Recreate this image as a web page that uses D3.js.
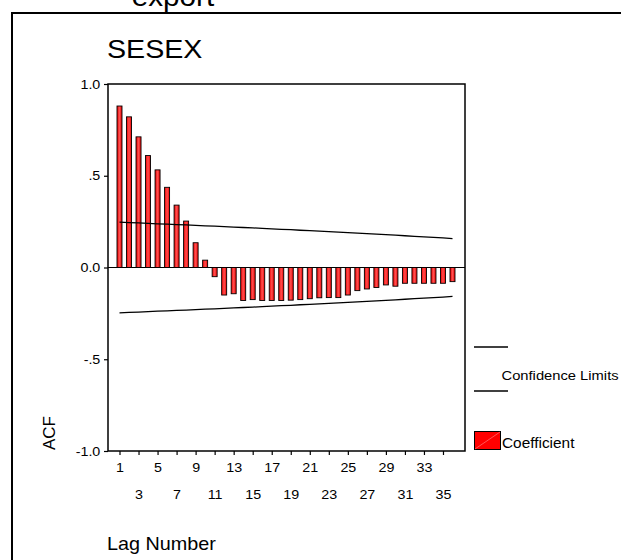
<!DOCTYPE html>
<html>
<head>
<meta charset="utf-8">
<script src="https://cdn.jsdelivr.net/npm/d3@7/dist/d3.min.js"></script>
<style>
  body { margin: 0; background: #fff; }
  svg { display: block; }
  text { font-family: "Liberation Sans", Arial, Helvetica, sans-serif; fill: #000; }
</style>
</head>
<body>
<svg id="chart" width="621" height="560"></svg>
<script>
// Autocorrelation of SESEX, lags 1..36
const lags = [1, 2, 3, 4, 5, 6, 7, 8, 9, 10, 11, 12, 13, 14, 15, 16, 17, 18,
              19, 20, 21, 22, 23, 24, 25, 26, 27, 28, 29, 30, 31, 32, 33, 34, 35, 36];
const coefficient = [0.880, 0.821, 0.712, 0.610, 0.532, 0.437, 0.340, 0.253, 0.135, 0.040,
                     -0.050, -0.150, -0.143, -0.180, -0.175, -0.180, -0.180, -0.180, -0.178, -0.175,
                     -0.170, -0.165, -0.164, -0.164, -0.150, -0.126, -0.117, -0.109, -0.095, -0.102,
                     -0.086, -0.086, -0.086, -0.086, -0.086, -0.077];
const upperLimit = [0.247, 0.245, 0.243, 0.240, 0.238, 0.236, 0.234, 0.232, 0.230, 0.227,
                    0.225, 0.223, 0.220, 0.218, 0.216, 0.213, 0.211, 0.208, 0.206, 0.203,
                    0.201, 0.198, 0.196, 0.193, 0.190, 0.187, 0.185, 0.182, 0.179, 0.176,
                    0.173, 0.170, 0.167, 0.164, 0.161, 0.157];
const lowerLimit = [-0.247, -0.245, -0.243, -0.240, -0.238, -0.236, -0.234, -0.232, -0.230, -0.227,
                    -0.225, -0.223, -0.220, -0.218, -0.216, -0.213, -0.211, -0.208, -0.206, -0.203,
                    -0.201, -0.198, -0.196, -0.193, -0.190, -0.187, -0.185, -0.182, -0.179, -0.176,
                    -0.173, -0.170, -0.167, -0.164, -0.161, -0.157];
const yTicks = [-1, -0.5, 0, 0.5, 1];
const yTickLabels = ["-1.0", "-.5", "0.0", ".5", "1.0"];
const xTicksRow1 = [1, 5, 9, 13, 17, 21, 25, 29, 33];
const xTicksRow2 = [3, 7, 11, 15, 19, 23, 27, 31, 35];

const svg = d3.select("#chart");
const STRETCH = "scale(1.1,1)";

const frame = { left: 108, right: 465, top: 84, bottom: 451 };
const x = d3.scaleLinear().domain([1, 36]).range([119.5, 452.5]);
const y = d3.scaleLinear().domain([-1, 1]).range([frame.bottom, frame.top]);

function label(px, py, str, size, anchor) {
  return svg.append("text")
    .attr("transform", `translate(${px},${py}) ${STRETCH}`)
    .attr("font-size", size)
    .attr("text-anchor", anchor || "start")
    .text(str);
}

// outer page border
svg.append("rect")
  .attr("x", 12).attr("y", 13).attr("width", 900).attr("height", 900)
  .attr("fill", "none").attr("stroke", "#000").attr("stroke-width", 2);

label(173, 6, "export", 27, "middle");
label(107, 58, "SESEX", 26);

// bar shading
const defs = svg.append("defs");
const grad = defs.append("linearGradient").attr("id", "barFill")
  .attr("x1", "0%").attr("x2", "100%").attr("y1", "0%").attr("y2", "0%");
grad.append("stop").attr("offset", "0%").attr("stop-color", "#f00000");
grad.append("stop").attr("offset", "50%").attr("stop-color", "#ff5050");
grad.append("stop").attr("offset", "100%").attr("stop-color", "#f00000");

// plot frame
svg.append("rect")
  .attr("x", frame.left).attr("y", frame.top)
  .attr("width", frame.right - frame.left).attr("height", frame.bottom - frame.top)
  .attr("fill", "none").attr("stroke", "#000").attr("stroke-width", 1.5);

// y axis
const yAxis = svg.append("g")
  .attr("transform", `translate(${frame.left},0)`)
  .call(d3.axisLeft(y).tickValues(yTicks).tickSize(4).tickPadding(3)
    .tickFormat((d, i) => yTickLabels[i]));
yAxis.select(".domain").remove();
yAxis.selectAll("line").attr("stroke-width", 1.2);
yAxis.selectAll("text").attr("font-size", 13).attr("font-family", null).attr("transform", STRETCH);

// x axis, two staggered rows of labels
function xRow(values, pad) {
  const g = svg.append("g")
    .attr("transform", `translate(0,${frame.bottom})`)
    .call(d3.axisBottom(x).tickValues(values).tickSize(4).tickPadding(pad)
      .tickFormat(d3.format("d")));
  g.select(".domain").remove();
  g.selectAll("line").attr("stroke-width", 1.2);
  g.selectAll("text").attr("font-size", 13).attr("font-family", null).attr("transform", STRETCH);
}
xRow(xTicksRow1, 8);
xRow(xTicksRow2, 35);

// zero line
svg.append("line")
  .attr("x1", frame.left).attr("x2", frame.right)
  .attr("y1", y(0)).attr("y2", y(0))
  .attr("stroke", "#000").attr("stroke-width", 1.2);

// coefficient bars
const barW = 5;
svg.append("g").selectAll("rect")
  .data(lags)
  .join("rect")
  .attr("x", (d) => x(d) - barW / 2)
  .attr("width", barW)
  .attr("y", (d, i) => y(Math.max(0, coefficient[i])))
  .attr("height", (d, i) => Math.abs(y(coefficient[i]) - y(0)))
  .attr("fill", "url(#barFill)")
  .attr("stroke", "#000")
  .attr("stroke-width", 0.9);

// confidence limits
const limitLine = d3.line().x((d, i) => x(lags[i])).y((d) => y(d));
[upperLimit, lowerLimit].forEach((series) => {
  svg.append("path")
    .attr("d", limitLine(series))
    .attr("fill", "none")
    .attr("stroke", "#000")
    .attr("stroke-width", 1.3);
});

// axis titles
svg.append("text")
  .attr("transform", `translate(55,433) rotate(-90)`)
  .attr("font-size", 17)
  .attr("text-anchor", "middle")
  .text("ACF");
label(107, 550, "Lag Number", 18);

// legend
const legend = svg.append("g");
[347, 391].forEach((ly) => {
  legend.append("line")
    .attr("x1", 474).attr("x2", 508).attr("y1", ly).attr("y2", ly)
    .attr("stroke", "#000").attr("stroke-width", 1.3);
});
label(501.5, 380, "Confidence Limits", 13.4);
legend.append("rect")
  .attr("x", 474.5).attr("y", 431.5).attr("width", 26).attr("height", 18)
  .attr("fill", "#ff0000").attr("stroke", "#000").attr("stroke-width", 1);
legend.append("line")
  .attr("x1", 475).attr("y1", 449).attr("x2", 500).attr("y2", 432)
  .attr("stroke", "#ff6a6a").attr("stroke-width", 0.8);
label(502, 448, "Coefficient", 14);
</script>
</body>
</html>
